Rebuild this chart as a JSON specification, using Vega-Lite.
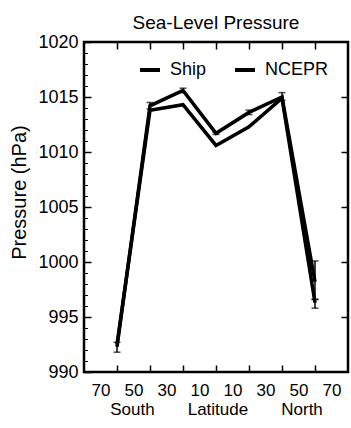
{
  "$schema": "https://vega.github.io/schema/vega-lite/v6.json",
  "width": 264,
  "height": 330,
  "autosize": {"type": "none"},
  "padding": {"left": 84, "top": 42, "right": 3, "bottom": 56},
  "background": "white",
  "title": {"text": "Sea-Level Pressure", "fontSize": 19, "fontWeight": "normal", "font": "Liberation Sans", "color": "black", "offset": 0, "anchor": "middle"},
  "config": {"view": {"stroke": "black", "strokeWidth": 2.5}, "font": "Liberation Sans"},
  "data": {"values": [
    {"lat": -60, "series": "Ship", "p": 992.3, "lo": 991.8, "hi": 992.7},
    {"lat": -40, "series": "Ship", "p": 1014.2, "lo": 1013.9, "hi": 1014.5},
    {"lat": -20, "series": "Ship", "p": 1015.6, "lo": 1015.4, "hi": 1015.8},
    {"lat": 0, "series": "Ship", "p": 1011.7, "lo": 1011.6, "hi": 1011.8},
    {"lat": 20, "series": "Ship", "p": 1013.6, "lo": 1013.4, "hi": 1013.8},
    {"lat": 40, "series": "Ship", "p": 1015.0, "lo": 1014.7, "hi": 1015.4},
    {"lat": 60, "series": "Ship", "p": 998.2, "lo": 996.6, "hi": 1000.1},
    {"lat": -60, "series": "NCEPR", "p": 992.5, "lo": null, "hi": null},
    {"lat": -40, "series": "NCEPR", "p": 1013.8, "lo": null, "hi": null},
    {"lat": -20, "series": "NCEPR", "p": 1014.3, "lo": null, "hi": null},
    {"lat": 0, "series": "NCEPR", "p": 1010.6, "lo": null, "hi": null},
    {"lat": 20, "series": "NCEPR", "p": 1012.3, "lo": null, "hi": null},
    {"lat": 40, "series": "NCEPR", "p": 1014.9, "lo": null, "hi": null},
    {"lat": 60, "series": "NCEPR", "p": 996.3, "lo": 995.8, "hi": 996.6}
  ]},
  "layer": [
    {
      "mark": {"type": "line", "strokeWidth": 3.5},
      "encoding": {
        "x": {"field": "lat", "type": "quantitative", "scale": {"domain": [-80, 80], "nice": false, "zero": false},
          "axis": {"orient": "bottom", "offset": -7, "values": [-70, -60, -50, -40, -30, -20, -10, 0, 10, 20, 30, 40, 50, 60, 70], "labelExpr": "datum.value % 20 != 0 ? abs(datum.value) : ''", "tickSize": 7, "tickWidth": 1.5, "tickColor": "black", "tickOpacity": {"condition": {"test": "datum.value % 20 == 0", "value": 1}, "value": 0}, "domain": false, "grid": false, "labelFontSize": 17, "labelColor": "black", "labelPadding": 10, "labelFont": "Liberation Sans",
            "title": "South\u00a0\u00a0\u00a0\u00a0\u00a0\u00a0\u00a0Latitude\u00a0\u00a0\u00a0\u00a0\u00a0\u00a0\u00a0North", "titleFontSize": 17, "titleFontWeight": "normal", "titleColor": "black", "titlePadding": 3, "titleFont": "Liberation Sans"}},
        "y": {"field": "p", "type": "quantitative", "scale": {"domain": [990, 1020], "nice": false, "zero": false},
          "axis": {"orient": "left", "offset": -7, "values": [990, 995, 1000, 1005, 1010, 1015, 1020], "format": "d", "tickSize": 7, "tickWidth": 1.5, "tickColor": "black", "domain": false, "grid": false, "labelFontSize": 18, "labelColor": "black", "labelPadding": 6, "labelFont": "Liberation Sans",
            "title": "Pressure (hPa)", "titleFontSize": 20, "titleFontWeight": "normal", "titleColor": "black", "titlePadding": 8, "titleY": 150, "titleFont": "Liberation Sans"}},
        "color": {"field": "series", "type": "nominal", "sort": ["Ship", "NCEPR"], "scale": {"domain": ["Ship", "NCEPR"], "range": ["black", "black"]},
          "legend": {"orient": "none", "legendX": 54, "legendY": 16, "direction": "horizontal", "title": null, "symbolType": "stroke", "symbolStrokeWidth": 4, "symbolSize": 400, "labelFontSize": 18, "labelColor": "black", "labelFont": "Liberation Sans", "labelOffset": 8, "columnPadding": 20}}
      }
    },
    {
      "transform": [{"filter": "datum.lo != null"}],
      "mark": {"type": "rule", "strokeWidth": 1.5, "color": "black"},
      "encoding": {
        "x": {"field": "lat", "type": "quantitative",
          "axis": {"orient": "top", "offset": -7, "values": [-60, -40, -20, 0, 20, 40, 60], "tickSize": 7, "tickWidth": 1.5, "tickColor": "black", "labels": false, "domain": false, "grid": false, "title": null}},
        "y": {"field": "lo", "type": "quantitative",
          "axis": {"orient": "right", "offset": -7, "values": [995, 1000, 1005, 1010, 1015], "tickSize": 7, "tickWidth": 1.5, "tickColor": "black", "labels": false, "domain": false, "grid": false, "title": null}},
        "y2": {"field": "hi"}
      }
    },
    {
      "transform": [{"filter": "datum.lo != null"}],
      "mark": {"type": "tick", "orient": "horizontal", "size": 7, "thickness": 1.5, "color": "black"},
      "encoding": {
        "x": {"field": "lat", "type": "quantitative", "axis": null},
        "y": {"field": "lo", "type": "quantitative",
          "axis": {"orient": "left", "offset": -3.5, "values": [991, 992, 993, 994, 996, 997, 998, 999, 1001, 1002, 1003, 1004, 1006, 1007, 1008, 1009, 1011, 1012, 1013, 1014, 1016, 1017, 1018, 1019], "tickSize": 3.5, "tickWidth": 1, "tickColor": "black", "labels": false, "domain": false, "grid": false, "title": null}}
      }
    },
    {
      "transform": [{"filter": "datum.hi != null"}],
      "mark": {"type": "tick", "orient": "horizontal", "size": 7, "thickness": 1.5, "color": "black"},
      "encoding": {
        "x": {"field": "lat", "type": "quantitative", "axis": null},
        "y": {"field": "hi", "type": "quantitative", "axis": null}
      }
    }
  ],
  "resolve": {"axis": {"x": "independent", "y": "independent"}}
}
